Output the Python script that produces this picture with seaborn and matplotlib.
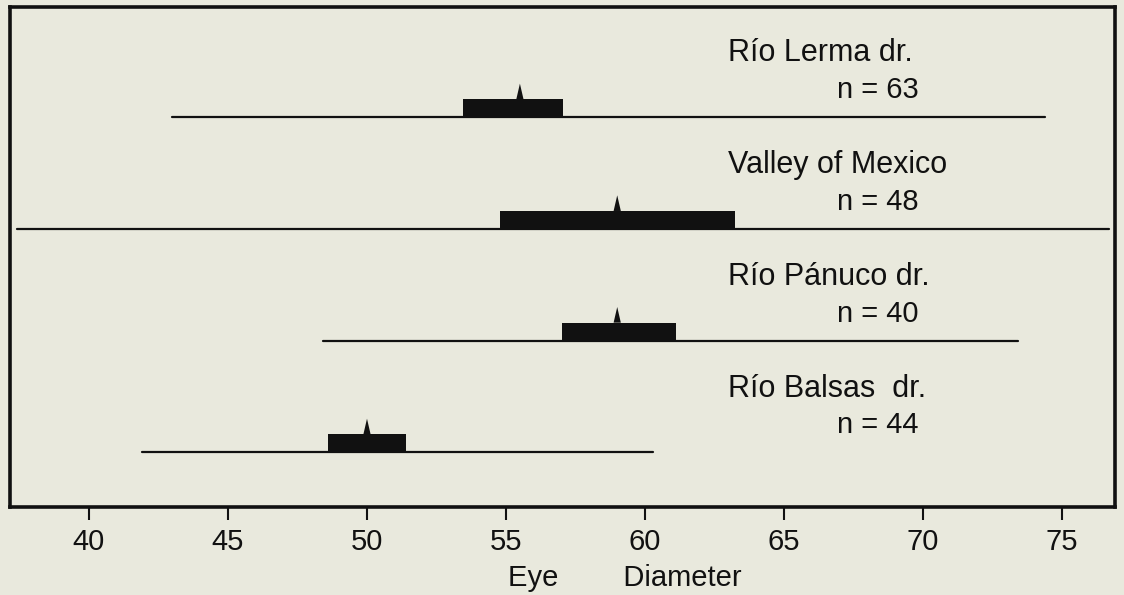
import matplotlib
matplotlib.use("Agg")
import matplotlib.pyplot as plt
import numpy as np
import pandas as pd
import seaborn as sns

# eye diameter summaries per drainage (range, box, mean)
populations = ["Río Lerma dr.", "Valley of Mexico", "Río Pánuco dr.", "Río Balsas  dr."]
sample_n = [63, 48, 40, 44]
range_min = [43.0, 37.4, 48.4, 41.9]
range_max = [74.4, 76.7, 73.4, 60.3]
box_lo = [53.45, 54.8, 57.0, 48.6]
box_hi = [57.05, 63.25, 61.1, 51.4]
means = [55.5, 59.0, 59.0, 50.0]
xticks = [40, 45, 50, 55, 60, 65, 70, 75]

paper = "#e9e9dd"
ink = "#111111"

sns.set_style("white")
plt.rcParams["font.family"] = ["Liberation Sans", "DejaVu Sans"]

rows = np.arange(len(populations))[::-1]  # top population gets highest row

df = pd.DataFrame({
    "population": np.repeat(populations, 2),
    "value": np.ravel(np.column_stack([range_min, range_max])),
    "row": np.repeat(rows, 2),
})

fig = plt.figure(figsize=(11.24, 5.95), dpi=100, facecolor=paper)
ax = fig.add_axes([0.0089, 0.148, 0.983, 0.840])
ax.set_facecolor(paper)

sns.lineplot(data=df, x="value", y="row", units="population", estimator=None,
             sort=False, color=ink, linewidth=1.6, legend=False, ax=ax)

box_h = 0.16
peak_h = 0.30
peak_w = 0.13
ax.barh(rows, width=np.array(box_hi) - np.array(box_lo), left=box_lo,
        height=box_h, align="edge", color=ink, linewidth=0)
for r, m in zip(rows, means):
    ax.fill([m - peak_w, m, m + peak_w], [r + box_h, r + peak_h, r + box_h],
            color=ink, linewidth=0)

for r, name, n in zip(rows, populations, sample_n):
    ax.text(63.0, r + 0.57, name, fontsize=22, color=ink, va="center", ha="left")
    ax.text(66.9, r + 0.24, f"n = {n}", fontsize=21, color=ink, va="center", ha="left")

ax.set_xlim(37.16, 76.9)
ax.set_ylim(-0.49, 3.985)
ax.set_yticks([])
ax.set_xticks(xticks)
ax.set_xticklabels([str(t) for t in xticks])
ax.tick_params(axis="x", direction="out", length=9.5, width=1.5, pad=6,
               labelsize=21, colors=ink, bottom=True)
for s in ax.spines.values():
    s.set_visible(True)
    s.set_linewidth(2.6)
    s.set_color(ink)

ax.set_xlabel("Eye        Diameter", fontsize=21, color=ink)
ax.xaxis.set_label_coords(0.556, -0.114)
ax.xaxis.label.set_va("top")
ax.set_ylabel("")

fig.savefig("out.png", dpi=100, facecolor=paper)
